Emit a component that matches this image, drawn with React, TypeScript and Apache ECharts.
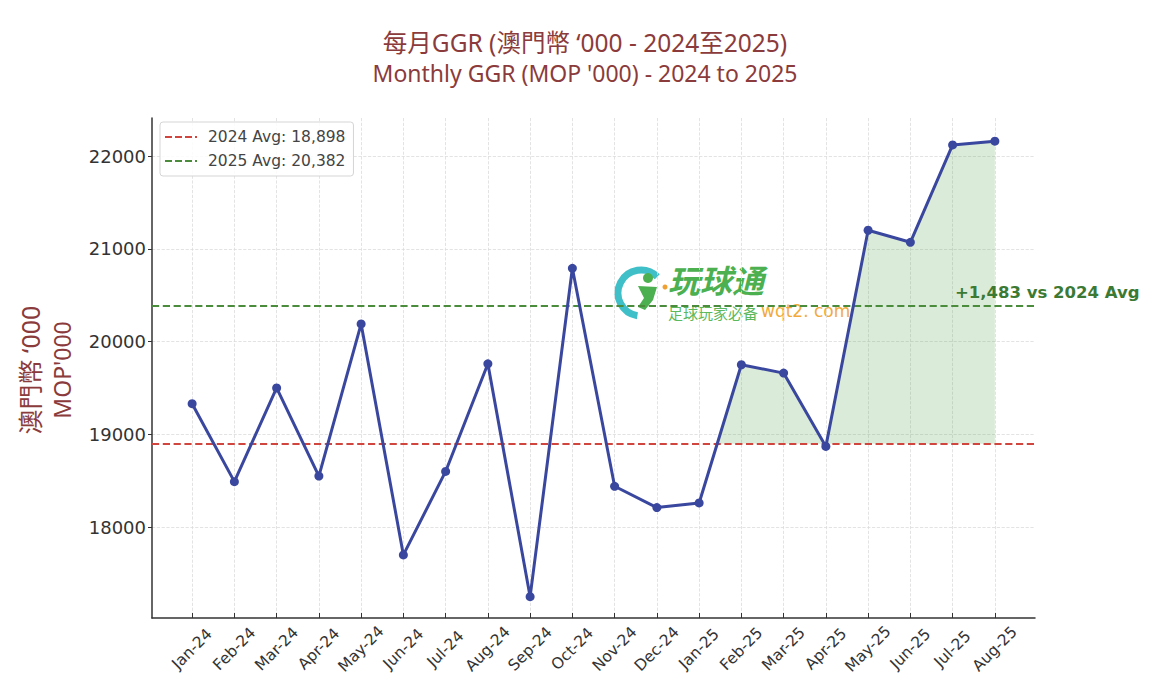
import React, { useEffect, useRef } from "react";
import * as echarts from "echarts";

const months = [
  "Jan-24", "Feb-24", "Mar-24", "Apr-24", "May-24", "Jun-24", "Jul-24", "Aug-24",
  "Sep-24", "Oct-24", "Nov-24", "Dec-24", "Jan-25", "Feb-25", "Mar-25", "Apr-25",
  "May-25", "Jun-25", "Jul-25", "Aug-25",
];
const ggr = [
  19330, 18490, 19500, 18550, 20190, 17700, 18600, 19760, 17250, 20790, 18440, 18210,
  18260, 19750, 19660, 18870, 21200, 21070, 22120, 22160,
];
const avg2024 = 18898;
const avg2025 = 20382;
const yTicks = [18000, 19000, 20000, 21000, 22000];
const firstIdx2025 = 12;

const titleCN = "每月GGR (澳門幣 ‘000 - 2024至2025)";
const titleEN = "Monthly GGR (MOP '000) - 2024 to 2025";
const yNameCN = "澳門幣 ‘000";
const yNameEN = "MOP'000";
const diffText = "+1,483 vs 2024 Avg";
const legend24 = "2024 Avg: 18,898";
const legend25 = "2025 Avg: 20,382";

const TITLE_COLOR = "#8b3b3b";
const LINE_COLOR = "#3a479e";
const RED = "#d0453d";
const GREEN = "#4a8c3c";
const DASH_ICON = "path://M0,0h7v2h-7z M10,0h7v2h-7z M20,0h7v2h-7z M30,0h2v2h-2z";

export default function App() {
  const ref = useRef<HTMLDivElement>(null);
  useEffect(() => {
    document.body.style.margin = "0";
    if (!ref.current) return;
    const chart = echarts.init(ref.current, null, { renderer: "svg" });
    const xIdx = months.map((_, i) => i);
    const lineData = ggr.map((v, i) => [i, v]);

    const fillRender = (params: any, api: any) => {
      const baseY = api.coord([0, avg2024])[1];
      const idxs = xIdx.slice(firstIdx2025);
      const polys: number[][][] = [];
      let cur: number[][] | null = null;
      idxs.forEach((i, k) => {
        const p = api.coord([i, ggr[i]]);
        const up = ggr[i] > avg2024;
        if (k > 0) {
          const j = idxs[k - 1];
          const q = api.coord([j, ggr[j]]);
          const qUp = ggr[j] > avg2024;
          if (up !== qUp) {
            const t = (avg2024 - ggr[j]) / (ggr[i] - ggr[j]);
            const cx = q[0] + t * (p[0] - q[0]);
            if (qUp && cur) {
              cur.push([cx, baseY]);
              polys.push(cur);
              cur = null;
            } else {
              cur = [[cx, baseY]];
            }
          }
        }
        if (up) {
          if (!cur) cur = [[p[0], baseY]];
          cur.push(p);
        }
      });
      if (cur) {
        const li = idxs[idxs.length - 1];
        const last = api.coord([li, ggr[li]]);
        (cur as number[][]).push([last[0], baseY]);
        polys.push(cur);
      }
      return {
        type: "group",
        children: polys.map((pts) => ({
          type: "polygon",
          shape: { points: pts },
          style: { fill: "rgba(90,165,80,0.22)", stroke: "none" },
        })),
      };
    };

    const tickFont = { fontFamily: "DejaVu Sans", color: "#333" };

    chart.setOption({
      animation: false,
      backgroundColor: "#fff",
      title: {
        text: titleCN,
        subtext: titleEN,
        left: "center",
        top: 24,
        itemGap: 6,
        textStyle: {
          color: TITLE_COLOR,
          fontSize: 24.5,
          lineHeight: 26,
          fontWeight: "normal",
          fontFamily: "Noto Sans, Noto Sans CJK TC",
        },
        subtextStyle: {
          color: TITLE_COLOR,
          fontSize: 23,
          lineHeight: 24,
          fontFamily: "Noto Sans, Noto Sans CJK TC",
        },
      },
      legend: {
        data: [
          { name: legend24, icon: DASH_ICON },
          { name: legend25, icon: DASH_ICON },
        ],
        orient: "vertical",
        left: 160,
        top: 122,
        itemWidth: 32,
        itemHeight: 2,
        itemGap: 8,
        padding: [7, 8, 7, 5],
        borderColor: "#d5d5d5",
        borderWidth: 1,
        borderRadius: 3,
        backgroundColor: "rgba(255,255,255,0.85)",
        textStyle: { fontFamily: "DejaVu Sans", fontSize: 15.5, color: "#444", padding: [0, 0, 0, 6] },
      },
      grid: { left: 152, right: 135, top: 118, bottom: 77 },
      xAxis: {
        type: "value",
        min: -0.95,
        max: 19.95,
        axisLine: { show: true, onZero: false, lineStyle: { color: "#333", width: 1.5 } },
        axisTick: {
          show: true,
          inside: true,
          length: 5,
          customValues: xIdx,
          lineStyle: { color: "#333" },
        },
        axisLabel: {
          customValues: xIdx,
          rotate: 45,
          align: "center",
          verticalAlign: "middle",
          margin: 31,
          fontSize: 15.5,
          ...tickFont,
          formatter: (v: number) => months[Math.round(v)] ?? "",
        },
        splitLine: {
          show: true,
          lineStyle: { color: "#dcdcdc", type: "dashed", width: 0.8 },
        },
      },
      yAxis: {
        type: "value",
        min: 17020,
        max: 22410,
        axisLine: { show: true, onZero: false, lineStyle: { color: "#333", width: 1.5 } },
        axisTick: {
          show: true,
          length: 4,
          customValues: yTicks,
          lineStyle: { color: "#333" },
        },
        axisLabel: {
          customValues: yTicks,
          margin: 6,
          fontSize: 18,
          ...tickFont,
          formatter: (v: number) => String(v),
        },
        splitLine: {
          show: true,
          lineStyle: { color: "#dcdcdc", type: "dashed", width: 0.8 },
        },
      },
      series: [
        {
          type: "custom",
          name: "fill",
          renderItem: fillRender,
          data: [[0, avg2024]],
          silent: true,
          z: 1,
        },
        {
          type: "line",
          name: legend24,
          data: [],
          symbol: "none",
          lineStyle: { color: RED, type: "dashed", width: 1.8 },
          itemStyle: { color: RED },
          markLine: {
            silent: true,
            symbol: "none",
            label: { show: false },
            lineStyle: { color: RED, type: "dashed", width: 1.8 },
            data: [{ yAxis: avg2024 }],
          },
          z: 2,
        },
        {
          type: "line",
          name: legend25,
          data: [],
          symbol: "none",
          lineStyle: { color: GREEN, type: "dashed", width: 1.8 },
          itemStyle: { color: GREEN },
          markLine: {
            silent: true,
            symbol: "none",
            label: { show: false },
            lineStyle: { color: GREEN, type: "dashed", width: 1.8 },
            data: [{ yAxis: avg2025 }],
          },
          z: 2,
        },
        {
          type: "line",
          name: "GGR",
          data: lineData,
          symbol: "circle",
          symbolSize: 9,
          lineStyle: { color: LINE_COLOR, width: 3 },
          itemStyle: { color: LINE_COLOR },
          z: 5,
        },
      ],
      graphic: [
        {
          type: "text",
          x: 30,
          y: 370,
          rotation: Math.PI / 2,
          style: {
            text: yNameCN,
            fill: TITLE_COLOR,
            fontSize: 25,
            fontFamily: "Noto Sans, Noto Sans CJK TC",
            align: "center",
            verticalAlign: "middle",
          },
        },
        {
          type: "text",
          x: 62,
          y: 370,
          rotation: Math.PI / 2,
          style: {
            text: yNameEN,
            fill: TITLE_COLOR,
            fontSize: 23,
            fontFamily: "Noto Sans, Noto Sans CJK TC",
            align: "center",
            verticalAlign: "middle",
          },
        },
        {
          type: "text",
          x: 955,
          y: 292,
          z: 10,
          style: {
            text: diffText,
            fill: "#3c7a34",
            fontSize: 16.5,
            fontWeight: "bold",
            fontFamily: "DejaVu Sans",
            align: "left",
            verticalAlign: "middle",
          },
        },
        {
          type: "group",
          z: 20,
          silent: true,
          children: [
            {
              type: "arc",
              shape: { cx: 641, cy: 293, r: 23, startAngle: Math.PI * 0.55, endAngle: Math.PI * 1.75 },
              style: { stroke: "#3fbfc8", lineWidth: 7, fill: "none" },
            },
            {
              type: "circle",
              shape: { cx: 648, cy: 278, r: 5 },
              style: { fill: "#4cb050" },
            },
            {
              type: "polygon",
              shape: { points: [[638, 286], [657, 287], [653, 300], [645, 310], [638, 307], [644, 298]] },
              style: { fill: "#4cb050" },
            },
            {
              type: "circle",
              shape: { cx: 665, cy: 287, r: 2.5 },
              style: { fill: "#f0a030" },
            },
            {
              type: "text",
              x: 668,
              y: 279,
              style: {
                text: "玩球通",
                fill: "#4cb050",
                fontSize: 32,
                lineHeight: 32,
                fontWeight: "bold",
                fontStyle: "italic",
                fontFamily: "Noto Sans CJK SC",
                align: "left",
                verticalAlign: "middle",
              },
            },
            {
              type: "text",
              x: 668,
              y: 312,
              style: {
                text: "足球玩家必备",
                fill: "#5cb85c",
                fontSize: 15,
                lineHeight: 15,
                fontFamily: "Noto Sans CJK SC",
                align: "left",
                verticalAlign: "middle",
              },
            },
            {
              type: "text",
              x: 761,
              y: 311,
              style: {
                text: "wqt2. com",
                fill: "#f2aa3a",
                fontSize: 17,
                lineHeight: 17,
                fontFamily: "DejaVu Sans",
                align: "left",
                verticalAlign: "middle",
              },
            },
          ],
        },
      ],
    });
    return () => chart.dispose();
  }, []);
  return <div ref={ref} style={{ width: 1170, height: 695 }} />;
}
